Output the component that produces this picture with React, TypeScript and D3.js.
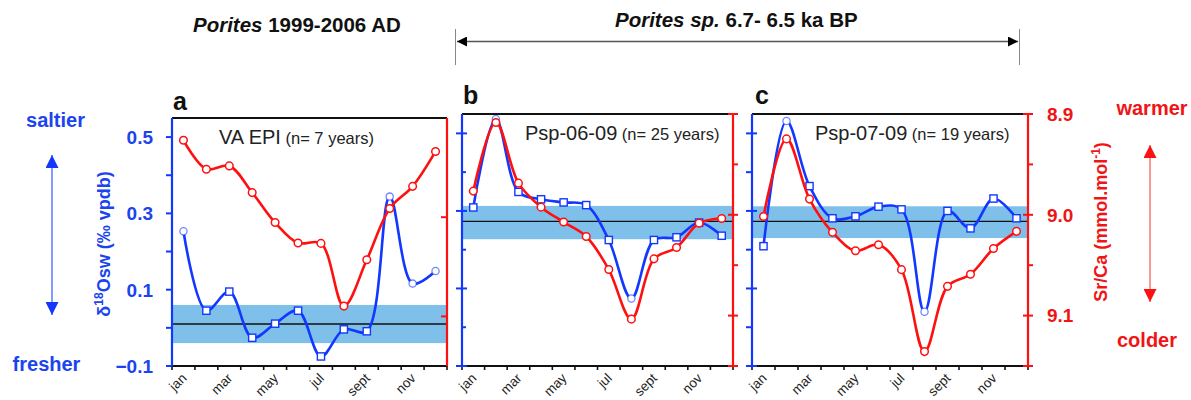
import React from "react";
import * as d3 from "d3";

// ---------- DATA ----------
const months = ["jan", "feb", "mar", "apr", "may", "jun", "jul", "aug", "sept", "oct", "nov", "dec"];
const monthLabels = ["jan", "", "mar", "", "may", "", "jul", "", "sept", "", "nov", ""];

const d18oA = [0.253, 0.045, 0.095, -0.026, 0.011, 0.045, -0.075, -0.004, -0.009, 0.344, 0.116, 0.149];
const srcaA = [8.9225, 8.9516, 8.9483, 8.9752, 9.0054, 9.026, 9.0264, 9.0896, 9.0429, 8.9912, 8.9689, 8.9337];
const shapeA = ["c", "s", "s", "s", "s", "s", "s", "s", "s", "c", "c", "c"];

const d18oB = [0.309, 0.537, 0.349, 0.33, 0.322, 0.315, 0.225, 0.074, 0.225, 0.232, 0.27, 0.236];
const srcaB = [8.9765, 8.9084, 8.9686, 8.9924, 9.0072, 9.0215, 9.0543, 9.1035, 9.0437, 9.0324, 9.0083, 9.0036];
const shapeB = ["s", "c", "s", "s", "s", "s", "s", "c", "s", "s", "s", "s"];

const d18oC = [0.209, 0.532, 0.364, 0.281, 0.286, 0.311, 0.304, 0.04, 0.3, 0.255, 0.332, 0.281];
const srcaC = [9.0017, 8.9247, 8.9844, 9.0174, 9.0357, 9.0297, 9.0544, 9.1357, 9.071, 9.059, 9.0334, 9.0164];
const shapeC = ["s", "c", "s", "s", "s", "s", "s", "c", "s", "s", "s", "s"];

const bandMean = [0.01, 0.273, 0.273];
const bandLow = [-0.04, 0.227, 0.23];
const bandHigh = [0.06, 0.313, 0.312];

const panelLetters = ["a", "b", "c"];
const panelNames = ["VA EPI", "Psp-06-09", "Psp-07-09"];
const panelNs = [" (n= 7 years)", " (n= 25 years)", " (n= 19 years)"];

const blueDomain = [-0.1, 0.55];
const redDomain = [8.9, 9.15];
const blueTicks = [-0.1, 0, 0.1, 0.2, 0.3, 0.4, 0.5];
const blueLabelTicks = [-0.1, 0.1, 0.3, 0.5];
const redTicks = [8.9, 8.95, 9.0, 9.05, 9.1, 9.15];
const redLabelTicks = [8.9, 9.0, 9.1];

// ---------- STYLE / LAYOUT ----------
const BLUE = "#1238ff";
const BLUE_TXT = "#1a44ee";
const RED = "#ff1010";
const RED_TXT = "#f01414";
const BAND = "#7fc0ea";
const FONT = "'Liberation Sans', Arial, Helvetica, sans-serif";

const panels = [
  { x0: 172, x1: 447, top: 118, bottom: 366, d18o: d18oA, srca: srcaA, shape: shapeA, nameX: 219, nameY: 144, letterX: 173, letterY: 110, style: "a" },
  { x0: 462, x1: 733, top: 114, bottom: 366, d18o: d18oB, srca: srcaB, shape: shapeB, nameX: 525, nameY: 140, letterX: 463, letterY: 104, style: "b" },
  { x0: 752, x1: 1028, top: 114, bottom: 366, d18o: d18oC, srca: srcaC, shape: shapeC, nameX: 815, nameY: 140, letterX: 755, letterY: 104, style: "c" },
];

function Panel({ p, i }: { p: any; i: number }) {
  const x = d3.scaleBand().domain(months).range([p.x0, p.x1]);
  const bw = x.bandwidth();
  const cx = (m: string) => (x(m) as number) + bw / 2;
  const yB = d3.scaleLinear().domain(blueDomain).range([p.bottom, p.top]);
  const yR = d3.scaleLinear().domain(redDomain).range([p.top, p.bottom]);

  const curve = d3.curveCatmullRom.alpha(0.5);
  const blueLine = d3.line<number>().x((_, k) => cx(months[k])).y((v) => yB(v)).curve(curve);
  const redLine = d3.line<number>().x((_, k) => cx(months[k])).y((v) => yR(v)).curve(curve);

  const boundaries = d3.range(months.length + 1).map((k) => p.x0 + k * x.step());
  const isA = p.style === "a";

  return (
    <g>
      {/* band */}
      <rect x={p.x0} y={yB(bandHigh[i])} width={p.x1 - p.x0} height={yB(bandLow[i]) - yB(bandHigh[i])} fill={BAND} />
      <line x1={p.x0} x2={p.x1} y1={yB(bandMean[i])} y2={yB(bandMean[i])} stroke="#111" strokeWidth={1.4} />

      {/* blue series */}
      <path d={blueLine(p.d18o) || ""} fill="none" stroke={BLUE} strokeWidth={2.6} />
      {p.d18o.map((v: number, k: number) =>
        p.shape[k] === "s" ? (
          <rect key={"bs" + k} x={cx(months[k]) - 3.6} y={yB(v) - 3.6} width={7.2} height={7.2} fill="#fff" stroke={BLUE} strokeWidth={1.4} />
        ) : (
          <circle key={"bc" + k} cx={cx(months[k])} cy={yB(v)} r={3.6} fill="#fff" stroke={BLUE} strokeOpacity={0.6} strokeWidth={1.3} />
        )
      )}

      {/* red series */}
      <path d={redLine(p.srca) || ""} fill="none" stroke={RED} strokeWidth={2.6} />
      {p.srca.map((v: number, k: number) => (
        <circle key={"rc" + k} cx={cx(months[k])} cy={yR(v)} r={3.8} fill="#fff" stroke={RED} strokeWidth={1.5} />
      ))}

      {/* top border */}
      <line x1={p.x0} x2={p.x1} y1={p.top} y2={p.top} stroke="#111" strokeWidth={2} />
      {/* bottom axis */}
      <line x1={p.x0} x2={p.x1} y1={p.bottom} y2={p.bottom} stroke="#111" strokeWidth={2} />
      {boundaries.map((bx, k) => (
        <line key={"xt" + k} x1={bx} x2={bx} y1={p.bottom} y2={p.bottom + 4} stroke="#111" strokeWidth={1.6} />
      ))}
      {months.map((m, k) =>
        monthLabels[k] ? (
          <text key={"ml" + k} transform={`translate(${cx(m) + 4},${p.bottom + 13}) rotate(-45)`} textAnchor="end" fontSize={13.5} fill="#222" fontFamily={FONT}>
            {monthLabels[k]}
          </text>
        ) : null
      )}

      {/* left blue axis */}
      <line x1={p.x0} x2={p.x0} y1={p.top} y2={p.bottom} stroke={BLUE} strokeWidth={2.2} />
      {blueTicks.map((t, k) => {
        const major = blueLabelTicks.includes(t);
        const x1 = isA ? p.x0 - 6 : major ? p.x0 - 6 : (i === 2 ? p.x0 - 6 : p.x0);
        const x2 = isA ? p.x0 : major ? p.x0 + 5 : (i === 2 ? p.x0 : p.x0 + 4);
        return <line key={"bt" + k} x1={x1} x2={x2} y1={yB(t)} y2={yB(t)} stroke={BLUE} strokeWidth={2} />;
      })}

      {/* right red axis */}
      <line x1={p.x1} x2={p.x1} y1={p.top} y2={p.bottom} stroke={RED} strokeWidth={2.2} />
      {(isA ? [9.0, 9.1] : redTicks).map((t, k) => {
        const major = redLabelTicks.includes(t) || t === 9.15;
        const x1 = isA ? p.x1 - 6 : major ? p.x1 - 5 : p.x1;
        const x2 = isA ? p.x1 : major ? p.x1 + 5 : p.x1 + 5;
        return <line key={"rt" + k} x1={x1} x2={x2} y1={yR(t)} y2={yR(t)} stroke={RED} strokeWidth={2} />;
      })}

      {/* panel letter and name */}
      <text x={p.letterX} y={p.letterY} fontSize={25} fontWeight="bold" fill="#111" fontFamily={FONT}>
        {panelLetters[i]}
      </text>
      <text x={p.nameX} y={p.nameY} fontSize={20} fill="#222" fontFamily={FONT}>
        {panelNames[i]}
        <tspan fontSize={16.5}>{panelNs[i]}</tspan>
      </text>
    </g>
  );
}

export default function App() {
  const pA = panels[0];
  const pC = panels[2];
  const yBa = d3.scaleLinear().domain(blueDomain).range([pA.bottom, pA.top]);
  const yRc = d3.scaleLinear().domain(redDomain).range([pC.top, pC.bottom]);
  const fmt = d3.format(".1f");

  return (
    <svg width={1191} height={400} style={{ position: "absolute", left: 0, top: 0, background: "#fff" }} fontFamily={FONT}>
      <rect width={1191} height={400} fill="#fff" />
      <defs>
        <marker id="ahBlack" viewBox="0 0 10 10" refX="10" refY="5" markerWidth="16" markerHeight="10" markerUnits="userSpaceOnUse" orient="auto-start-reverse">
          <path d="M0,0 L10,5 L0,10 z" fill="#000" />
        </marker>
        <marker id="ahBlue" viewBox="0 0 10 10" refX="10" refY="5" markerWidth="16" markerHeight="13" markerUnits="userSpaceOnUse" orient="auto-start-reverse">
          <path d="M0,0 L10,5 L0,10 z" fill={BLUE} />
        </marker>
        <marker id="ahRed" viewBox="0 0 10 10" refX="10" refY="5" markerWidth="16" markerHeight="13" markerUnits="userSpaceOnUse" orient="auto-start-reverse">
          <path d="M0,0 L10,5 L0,10 z" fill={RED} />
        </marker>
      </defs>

      {/* top titles */}
      <text x={193} y={32} fontSize={20.5} fontWeight="bold" fill="#111">
        <tspan fontStyle="italic">Porites</tspan> 1999-2006 AD
      </text>
      <text x={615} y={27} fontSize={20.5} fontWeight="bold" fill="#111">
        <tspan fontStyle="italic">Porites sp.</tspan> 6.7- 6.5 ka BP
      </text>
      <line x1={455.5} x2={455.5} y1={29} y2={65} stroke="#888" strokeWidth={1} />
      <line x1={1019.5} x2={1019.5} y1={29} y2={65} stroke="#888" strokeWidth={1} />
      <line x1={457} x2={1018} y1={41.5} y2={41.5} stroke="#555" strokeWidth={1.3} markerStart="url(#ahBlack)" markerEnd="url(#ahBlack)" />

      {panels.map((p, i) => (
        <Panel key={i} p={p} i={i} />
      ))}

      {/* left tick labels */}
      {blueLabelTicks.map((t, k) => (
        <text key={"bl" + k} x={153} y={yBa(t)} dy="0.36em" textAnchor="end" fontSize={19} fontWeight="bold" fill={BLUE_TXT}>
          {fmt(t)}
        </text>
      ))}
      <text transform="translate(110,244) rotate(-90)" textAnchor="middle" fontSize={18} fontWeight="bold" fill={BLUE_TXT}>
        δ<tspan fontSize={12} dy={-7}>18</tspan>
        <tspan dy={7}>Osw (‰ vpdb)</tspan>
      </text>
      <text x={55.5} y={127} textAnchor="middle" fontSize={20} fontWeight="bold" fill={BLUE_TXT}>saltier</text>
      <text x={46.5} y={371} textAnchor="middle" fontSize={20} fontWeight="bold" fill={BLUE_TXT}>fresher</text>
      <line x1={52} x2={52} y1={155} y2={315} stroke="#5a78ff" strokeWidth={1.5} markerStart="url(#ahBlue)" markerEnd="url(#ahBlue)" />

      {/* right tick labels */}
      {redLabelTicks.map((t, k) => (
        <text key={"rl" + k} x={1047} y={yRc(t)} dy="0.36em" textAnchor="start" fontSize={19} fontWeight="bold" fill={RED_TXT}>
          {fmt(t)}
        </text>
      ))}
      <text transform="translate(1107,222) rotate(-90)" textAnchor="middle" fontSize={18} fontWeight="bold" fill={RED_TXT}>
        Sr/Ca (mmol.mol<tspan fontSize={12} dy={-7}>-1</tspan>
        <tspan dy={7}>)</tspan>
      </text>
      <text x={1152} y={115} textAnchor="middle" fontSize={20} fontWeight="bold" fill={RED_TXT}>warmer</text>
      <text x={1147} y={347} textAnchor="middle" fontSize={20} fontWeight="bold" fill={RED_TXT}>colder</text>
      <line x1={1150} x2={1150} y1={145} y2={302} stroke="#ff5050" strokeWidth={1.2} markerStart="url(#ahRed)" markerEnd="url(#ahRed)" />
    </svg>
  );
}
